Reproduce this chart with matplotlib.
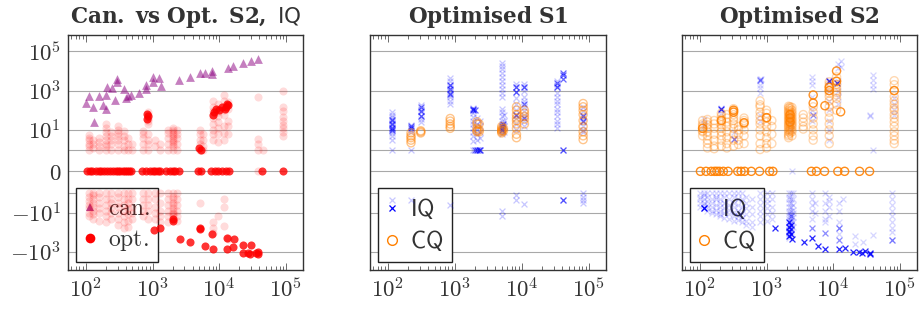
import matplotlib
matplotlib.use('Agg')
import matplotlib.pyplot as plt
from matplotlib.ticker import FixedLocator, FixedFormatter, LogLocator, NullFormatter
from matplotlib.lines import Line2D

plt.rcParams['mathtext.fontset'] = 'cm'

# ---------------- data ----------------
# panel 1: canonical (triangles)
can_x = [100, 112, 128, 133, 157, 200, 182, 200, 210, 250, 270, 295, 295, 375, 395, 430, 475, 625,
         785, 785, 1020, 1020, 1240, 1360, 2500, 3700, 5100, 6200, 7800, 7800, 13300, 16200, 22800,
         29600, 38400]
can_y = [230, 560, 150, 26, 520, 600, 190, 120, 1500, 1300, 340, 3800, 2600, 1200, 430, 560, 630, 740,
         1900, 1200, 4700, 2600, 4200, 1650, 3400, 4700, 7600, 7600, 6800, 10000, 15000, 18000, 26000,
         32000, 42000]

# panel 1: optimised, faint columns (x, values)
opt_faint = [
    (110, [5.5, 4, 3, 2, 1.5, 1, -1, -1.5, -2.5, -4, -6, -10, -15]),
    (128, [3, 2, 1.2, -1, -1.3, -2, -3, -5, -8, -12, -20]),
    (157, [4, 2.5, 1.5, 1, -1, -1.5, -3, -6, -10, -25]),
    (200, [20, 12, 8, 5, 3, 2, 1.5, 1, -1, -2, -4, -8, -15, -30]),
    (237, [8, 5, 3, 2, 1, -1, -2, -3, -6, -10, -20]),
    (305, [15, 10, 7, 5, 3, 2, 1, -1, -1.5, -3, -5, -10, -20, -40]),
    (370, [9, 5, 3, 1.5, 1, -1, -2, -4, -8, -15, -30, -60]),
    (430, [4, 2, 1, -1, -2, -3, -6, -12, -25, -50]),
    (485, [2, 1, -1, -2, -5, -10, -20]),
    (725, [9, 6, 4, 2, 1, -1, -2, -4, -8, -15]),
    (860, [80, 60, 45, 35, 27, 20, 6, 3, 2, 1, -1, -2, -4, -8, -20]),
    (1085, [3, 1.5, -1, -2, -5, -10, -20]),
    (1290, [2, 1, -1, -3, -8, -15, -30]),
    (1720, [10, 7, 4, 2, 1, -1, -2, -4, -8, -15, -30]),
    (2040, [12, 10, 8, 6, 5, 4, 3, 2.5, 2, 1.5, 1, -1, -1.5, -2, -3, -4, -6, -8, -10, -12, -15, -20]),
    (2290, [10, 6, 4, 2, 1, -1, -2, -4, -8, -15, -25]),
    (5100, [10, 6, 3, 2, 1, 1, -3]),
    (5700, [6, 3, 1.5, 1]),
    (8100, [300, 150, 90, 60, 40, 20, 10, 6, 3, -30, -60, -110]),
    (9700, [200, 120, 80, 50, 25, 12, 6, 2.5, -15]),
    (11800, [600, 300, 150, 100, 60, 15, 7, 3, -2, -5, -45]),
    (13600, [250, 180, 120, 30, 15, 6, -190, -214]),
    (38000, [470, 3.5, 2, 1, 0]),
    (45000, [1]),
    (91000, [940, 150, 90, 47, 30, 18, 12, 8, 5]),
]
opt_zero_x = [105, 115, 125, 140, 155, 170, 190, 210, 230, 255, 280, 305, 330, 360, 390, 420, 450, 480,
              700, 800, 900, 1000, 1100, 1200, 1300, 1600, 1800, 2000, 2200, 2500, 4800, 5300, 7500,
              8500, 9500, 11000, 12500, 14000, 44000, 89000]
opt_solid_x = [1050, 1290, 2040, 2040, 2570, 3650, 5100, 5100, 6200, 7700, 8100, 12900, 13000, 16200,
               16800, 23000, 22800, 27200, 30000, 29000, 36000, 38000, 38000,
               8100, 8300, 9000, 10000, 11000, 12000, 13000, 13600, 12500, 830, 830, 840, 5000, 5300]
opt_solid_y = [-76, -63, -20, -25, -214, -316, -68, -60, -480, -120, -740, -740, -190, -560,
               -214, -460, -1100, -1100, -460, -1200, -1100, -1300, -1000,
               56, 83, 120, 100, 148, 120, 215, 180, 150, 38, 68, 50, 1.2, 1.0]

# panel 2: optimised S1
s1_iq_faint = [
    (117, [83, 60, 45, 35, 28, 22, 18, 14, 11, 9, 7, 5, 3.2, 1, -2.2]),
    (221, [18, 14, 10, 8, 1, -2.2]),
    (309, [180, 120, 80, 50, 35, 26]),
    (850, [4600, 3000, 2000, 1500, 1000, 800, 600, 450, 300, 215, -4]),
    (1860, [126, 100, 70, 45, 30, 20, 12, 8, 5, 2.6, 1]),
    (2140, [40, 20, 10, 6, 3, 1]),
    (2400, [30, 15, 8, 4, 1]),
    (5000, [25000, 18000, 12000, 8000, 5000, 3000, 2000, 1200, 800, 500, 120, 80, 50, 30, 20, 14,
            10, 8, 6, -8, -15]),
    (5400, [60, 30, 15, 8]),
    (8300, [2200, 1500, 900, 400, 200, 100, 60, 40, 20, 10, -1.2, -2.2]),
    (10900, [2200, 1500, 1000, 500, 300, 150, 90, 50, 30, 15, -3.5]),
    (33500, [3200, 2000, 1500, 800, 500, 300, 200, 120, 80, 50, 30, 20, 12]),
    (40500, [1, -2.2]),
    (82000, [150, 90, 60, 40, 25, 15, 10, 8, -1, -1.5, -2.2, -3]),
]
s1_iq_dark_x = [117, 117, 117, 117, 221, 221, 309, 309, 309, 850, 850, 850, 1860, 1860, 2000, 2000,
                2140, 2300, 2400, 5000, 5000, 5000, 5200, 8300, 8300, 8300, 10900, 10900, 10900,
                33500, 33500, 40500, 40500, 40500, 40500, 40500, 82000, 82000]
s1_iq_dark_y = [32, 20, 12, 10, 16, 12, 150, 90, 50, 2000, 1200, 700, 120, 100, 100, 1,
                1, 1, 1, 15, 12, 10, 20, 1500, 900, 60, 1500, 200, 40,
                2500, 1600, 8000, 6000, 4000, 1, -2.2, 50, 30]
s1_cq = [
    (221, [7, 5, 4, 3, 2.2]),
    (309, [9, 8, 7]),
    (850, [38, 28, 20, 15, 12]),
    (2140, [26, 20, 12, 9, 8]),
    (2300, [20, 10, 8]),
    (5000, [15, 12, 10, 9, 8, 7]),
    (5300, [12, 9]),
    (8300, [150, 100, 60, 40, 30, 20, 12, 6, 4]),
    (10900, [100, 70, 50, 35, 20]),
    (82000, [220, 150, 100, 60, 30, 15, 8, 5, 3.2]),
]

# panel 3: optimised S2
s2_cq_faint = [
    (110, [30, 20, 16, 12, 9, 8, 5]),
    (130, [34, 25, 18, 12, 8, 5, 3, 2, 1.2]),
    (164, [30, 20, 12, 6, 3, 1.5, 1.1]),
    (210, [70, 50, 35, 25, 18, 12, 8, 5, 3, 1.5]),
    (254, [60, 40, 25, 15, 8, 4, 2, 1.2]),
    (320, [120, 100, 80, 60, 40, 30, 20, 12, 6, 3, 1.5]),
    (380, [15, 10, 6, 3, 1.8]),
    (460, [40, 30, 23, 20, 10, 5, 2]),
    (800, [300, 190, 150, 80, 50, 30, 20, 10, 5, 2, 1]),
    (1000, [100, 70, 42, 40, 25, 15, 8, 4, 2, 1.2]),
    (1200, [30, 15, 6, 2]),
    (2140, [160, 130, 100, 80, 65, 50, 40, 32, 25, 20, 16, 13, 10, 8, 6, 5, 4]),
    (2250, [150, 120, 90, 70, 55, 45, 35, 28, 22, 18, 14, 11, 9, 7]),
    (2400, [140, 100, 75, 60, 45, 35, 28, 22, 18, 14, 10, 8, 5]),
    (3550, [60, 40, 25, 15, 11]),
    (5000, [150, 80, 40, 20, 10, 5, 3]),
    (8700, [2800, 2000, 1400, 1000, 740, 500, 300, 150, 80, 40, 20, 10, 5, 2]),
    (11200, [5000, 3000, 2000, 1500, 1000, 800, 600, 400, 200, 100]),
    (82000, [3200, 2000, 1000, 500, 300, 200, 130, 100, 60, 40, 25, 15, 8, 5, 3, 2]),
]
s2_cq_dark_x = [110, 320, 320, 460, 8700, 8700, 11200, 11200, 5000, 5000, 7500, 12900, 82000,
                2250, 2250, 2250, 210, 1000]
s2_cq_dark_y = [12, 100, 80, 23, 1500, 1000, 10000, 3000, 600, 230, 170, 83, 1000,
                60, 40, 25, 30, 42]
s2_cq_zero_x = [102, 124, 148, 166, 180, 197, 225, 265, 370, 415, 470, 590, 785, 1110, 1245, 4700,
                5600, 7400, 11700, 14800, 24800, 35000]
s2_iq_faint = [
    (115, [34, 20, 15]), (210, [135, 100, 75]), (320, [3.4, 8]),
    (800, [4000, 3000, 2000, 1400, 800, 60, 27]), (830, [3800]), (2300, [20, 10]), (2400, [0]),
    (4800, [5000, 3000, 2000, 500, 100, 30]), (8700, [3500, 2700, 1000, 300, 100, 30, 10, 3]),
    (11800, [23000, 15000, 3000, 1000, 500, 200]), (12900, [32000, 16000]), (36000, [60, 50]),
    (39000, [6000, 3500, 2000, 1200, 1]), (82000, [400, 200, 100, 60]),
    (100, [-1, -1.5, -2, -3, -5]),
    (115, [-1, -1.3, -2, -3, -4, -6]),
    (130, [-1, -1.5, -2.5, -4, -6, -8]),
    (150, [-1, -2, -3, -5, -8, -10]),
    (175, [-1, -1.5, -2, -4, -7, -12]),
    (200, [-1, -2, -3, -5, -8, -12, -15]),
    (230, [-1, -1.5, -3, -6, -10, -18]),
    (270, [-1, -2, -4, -7, -12, -20]),
    (320, [-1, -1.5, -3, -5, -9, -15, -25]),
    (370, [-1, -2, -4, -8, -14, -22]),
    (430, [-1, -2, -5, -10, -18, -30]),
    (500, [-1.5, -3, -6, -12, -25, -40]),
    (600, [-2, -5, -12, -30, -50]),
    (800, [-1, -2, -4, -8, -15, -30]),
    (1000, [-1, -2, -3, -6, -12, -25]),
    (1200, [-1, -2, -5, -10, -20]),
    (2140, [-1, -1.5, -2, -3, -5, -8, -10, -15, -20, -30, -40, -55, -70, -90, -120, -150, -200]),
    (2300, [-1, -2, -3, -5, -8, -12, -18, -25, -35, -50, -70, -100, -140]),
    (2450, [-1, -2, -4, -7, -10, -16, -30, -50]),
    (4800, [-1, -2, -4, -8, -20]),
    (5400, [-3, -10]),
    (7500, [-1, -3, -8, -20, -30]),
    (8500, [-1.5, -2.5, -5, -15]),
    (12000, [-3, -8, -30, -60, -120]),
    (14000, [-2]),
    (21000, [-150, -400]),
    (28000, [-300]),
    (40000, [-130]),
    (76000, [-1, -2, -4, -8, -15, -30, -60, -100, -250]),
]
s2_iq_mid_x = [4800, 7400, 12000, 12000, 76000, 2300, 2140, 2300, 800, 320, 5000]
s2_iq_mid_y = [-58, -104, -60, -240, -250, -15, -100, -70, 3500, 3.4, 60]
s2_iq_dark_x = [1320, 2430, 3600, 4800, 5900, 7400, 12000, 14900, 20000, 24000, 27000, 30000,
                35000, 35000, 2140, 2140, 2140, 2300, 2300, 2140, 8700, 11200, 210]
s2_iq_dark_y = [-58, -220, -320, -200, -500, -740, -720, -650, -950, -950, -1100, -870,
                -1100, -1300, -50, -80, -30, -120, -40, -150, 3000, 2500, 120]

ytick_vals = [-1e3, -10, 0, 10, 1e3, 1e5]
ytick_labels = [r'$-10^{3}$', r'$-10^{1}$', r'$0$', r'$10^{1}$', r'$10^{3}$', r'$10^{5}$']
xtick_vals = [1e2, 1e3, 1e4, 1e5]
xtick_labels = [r'$10^{2}$', r'$10^{3}$', r'$10^{4}$', r'$10^{5}$']


def flat(cols):
    xs, ys = [], []
    for x, vals in cols:
        xs += [x] * len(vals)
        ys += vals
    return xs, ys


RED = (1, 0, 0)
BLUE = (0, 0, 1)
ORANGE = (1, 0.5, 0)
VIOLET = (0.55, 0, 0.5)
TXT = '#333333'


def setup(ax, title, ylabels):
    ax.set_xscale('log')
    ax.set_yscale('symlog', linthresh=1, linscale=1)
    ax.set_xlim(54, 1.8e5)
    ax.set_ylim(-8.2e3, 6.8e5)
    ax.yaxis.set_major_locator(FixedLocator(ytick_vals))
    ax.yaxis.set_minor_locator(FixedLocator([-1, 1]))
    ax.yaxis.set_minor_formatter(NullFormatter())
    if ylabels:
        ax.yaxis.set_major_formatter(FixedFormatter(ytick_labels))
    else:
        ax.yaxis.set_major_formatter(NullFormatter())
    ax.xaxis.set_major_locator(FixedLocator(xtick_vals))
    ax.xaxis.set_major_formatter(FixedFormatter(xtick_labels))
    ax.xaxis.set_minor_locator(LogLocator(base=10, subs=range(2, 10), numticks=20))
    ax.xaxis.set_minor_formatter(NullFormatter())
    ax.grid(True, axis='y', which='both', color='#a8a8a8', lw=0.8)
    ax.set_axisbelow(True)
    ax.tick_params(which='both', direction='in', top=True, right=True, colors='#555555',
                   labelcolor=TXT, labelsize=16.5, width=0.6)
    ax.tick_params(which='major', length=5)
    ax.tick_params(which='minor', length=3)
    ax.tick_params(axis='y', which='both', length=0, pad=5)
    ax.tick_params(axis='x', pad=6)
    for s in ax.spines.values():
        s.set_color('#333333')
        s.set_linewidth(1.0)
    ax.set_title(title, fontsize=15.5, color=TXT, pad=9, math_fontfamily='dejavuserif')


def add_legend(ax, handles, labels):
    leg = ax.legend(handles, labels, loc='lower left', frameon=True, fancybox=False,
                    edgecolor='#222222', framealpha=1, fontsize=17, borderaxespad=0.35,
                    handlelength=0.5, handletextpad=0.5, borderpad=0.35, labelspacing=0.3,
                    labelcolor=TXT)
    leg.get_frame().set_linewidth(1.0)
    leg.set_zorder(1.5)


fig = plt.figure(figsize=(9.19, 3.09), dpi=100)
ax1 = fig.add_axes([68 / 919, 1 - 270 / 309, 235 / 919, 235 / 309])
ax2 = fig.add_axes([370 / 919, 1 - 270 / 309, 236 / 919, 235 / 309])
ax3 = fig.add_axes([682 / 919, 1 - 270 / 309, 235 / 919, 235 / 309])

# panel 1
setup(ax1, r'$\mathbf{Can.\ vs\ Opt.\ S2,}\ \mathsf{IQ}$', True)
fx, fy = flat(opt_faint)
ax1.scatter(fx, fy, s=34, color=RED, alpha=0.14, lw=0, zorder=3)
ax1.scatter(opt_zero_x, [0] * len(opt_zero_x), s=34, color=RED, alpha=0.8, lw=0, zorder=3)
ax1.scatter(opt_solid_x, opt_solid_y, s=34, color=RED, alpha=0.8, lw=0, zorder=3)
ax1.scatter(can_x, can_y, s=40, marker='^', color=VIOLET, alpha=0.5, lw=0, zorder=4)
add_legend(ax1,
           [Line2D([], [], ls='none', marker='^', ms=6, color=VIOLET, alpha=0.7, mew=0),
            Line2D([], [], ls='none', marker='o', ms=7, color=RED, mew=0)],
           [r'$\mathrm{can.}$', r'$\mathrm{opt.}$'])

# panel 2
setup(ax2, r'$\mathbf{Optimised\ S1}$', False)
ix, iy = flat(s1_iq_faint)
ax2.scatter(ix, iy, s=18, marker='x', color=BLUE, alpha=0.22, lw=0.9, zorder=3)
ax2.scatter(s1_iq_dark_x, s1_iq_dark_y, s=18, marker='x', color=BLUE, alpha=0.6, lw=0.9, zorder=3)
cx, cy = flat(s1_cq)
ax2.scatter(cx, cy, s=34, marker='o', facecolors='none', edgecolors=ORANGE, alpha=0.45, lw=1.0, zorder=4)

# panel 3
setup(ax3, r'$\mathbf{Optimised\ S2}$', False)
ix, iy = flat(s2_iq_faint)
ax3.scatter(ix, iy, s=18, marker='x', color=BLUE, alpha=0.16, lw=0.9, zorder=3)
ax3.scatter(s2_iq_mid_x, s2_iq_mid_y, s=18, marker='x', color=BLUE, alpha=0.45, lw=0.9, zorder=3)
ax3.scatter(s2_iq_dark_x, s2_iq_dark_y, s=18, marker='x', color=BLUE, alpha=0.85, lw=0.9, zorder=3)
cx, cy = flat(s2_cq_faint)
ax3.scatter(cx, cy, s=34, marker='o', facecolors='none', edgecolors=ORANGE, alpha=0.3, lw=1.0, zorder=4)
ax3.scatter(s2_cq_dark_x, s2_cq_dark_y, s=34, marker='o', facecolors='none', edgecolors=ORANGE,
            alpha=0.85, lw=1.0, zorder=4)
ax3.scatter(s2_cq_zero_x, [0] * len(s2_cq_zero_x), s=34, marker='o', facecolors='none',
            edgecolors=ORANGE, alpha=0.9, lw=1.0, zorder=4)

iq_cq_handles = [Line2D([], [], ls='none', marker='x', ms=4.5, color=BLUE, mew=0.9),
                 Line2D([], [], ls='none', marker='o', ms=7, mfc='none', mec=ORANGE, mew=1.0)]
add_legend(ax2, iq_cq_handles, [r'$\mathsf{IQ}$', r'$\mathsf{CQ}$'])
add_legend(ax3, iq_cq_handles, [r'$\mathsf{IQ}$', r'$\mathsf{CQ}$'])

fig.savefig('out.png', dpi=100)
